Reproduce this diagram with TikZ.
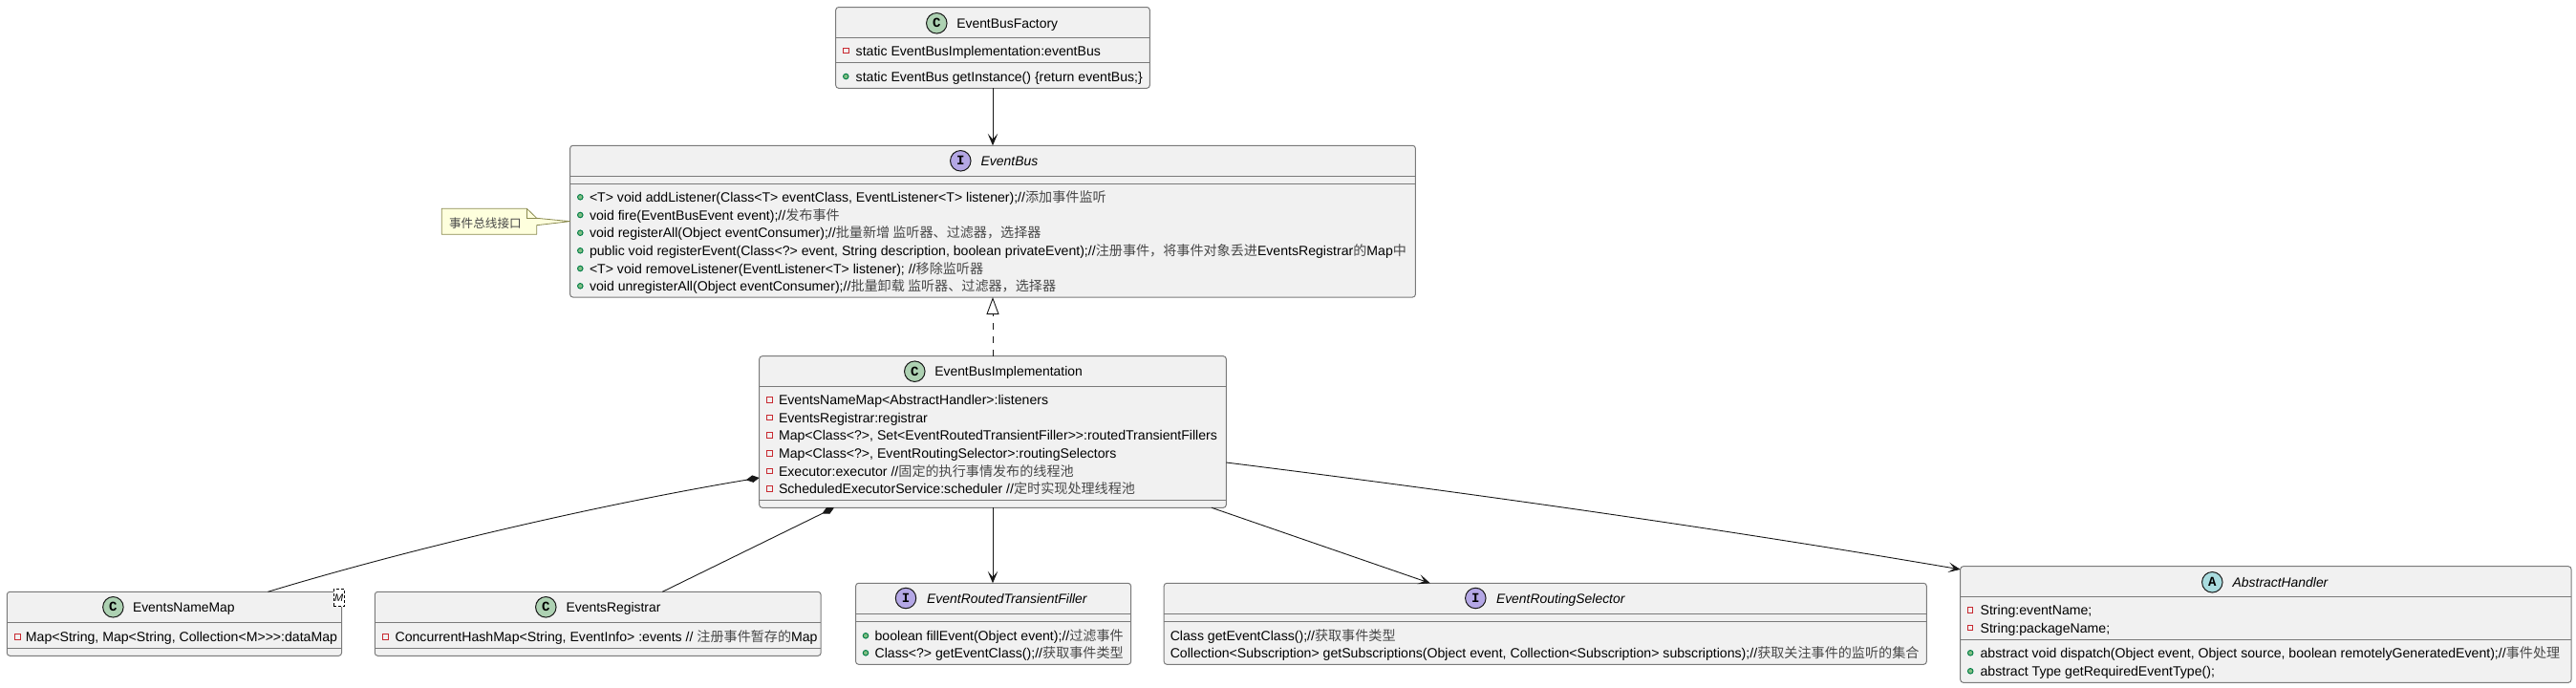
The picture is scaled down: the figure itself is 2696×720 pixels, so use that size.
\documentclass[tikz,border=0pt]{standalone}
\usepackage{fontspec}
\setmainfont{Liberation Sans}
\newfontfamily\lat{Liberation Sans}
\newfontfamily\cjk{Noto Sans CJK SC}
\newfontfamily\iconfont{Liberation Mono}
\usetikzlibrary{arrows.meta}
\definecolor{boxfill}{HTML}{F1F1F1}
\definecolor{boxline}{HTML}{7A7A7A}
\definecolor{conn}{HTML}{181818}
\definecolor{privred}{HTML}{C82930}
\definecolor{pubfill}{HTML}{84BE84}
\definecolor{publine}{HTML}{038048}
\definecolor{zhcol}{HTML}{484848}
\definecolor{notefill}{HTML}{FEFFDD}
\definecolor{noteline}{HTML}{8A8A50}
\definecolor{cfill}{HTML}{ADD1B2}
\definecolor{ifill}{HTML}{B4A7E5}
\definecolor{afill}{HTML}{A9DCDF}
\newcommand{\zh}[1]{{\cjk\color{zhcol}#1}}
\tikzset{
  x=1pt,y=-1pt,
  umlbox/.style={rectangle,rounded corners=3pt,draw=boxline,fill=boxfill,line width=1pt,inner sep=0pt,outer sep=0pt},
  divider/.style={draw=boxline,line width=1pt},
  rowtext/.style={anchor=base west,inner sep=0pt,outer sep=0pt,yshift=-5pt,font=\lat\fontsize{14.1pt}{16pt}\selectfont,text=black},
  titletext/.style={anchor=base west,inner sep=0pt,outer sep=0pt,yshift=-5pt,font=\lat\fontsize{13.9pt}{16pt}\selectfont,text=black},
  ititle/.style={titletext,font=\lat\itshape\fontsize{13.9pt}{16pt}\selectfont},
  privmark/.style={rectangle,draw=privred,line width=1pt,inner sep=0pt,minimum size=5.5pt},
  pubmark/.style={circle,draw=publine,fill=pubfill,line width=1pt,inner sep=0pt,minimum size=5.5pt},
  icon/.style={circle,draw=conn,line width=1pt,inner sep=0pt,minimum size=21.5pt,font=\iconfont\bfseries\fontsize{14pt}{14pt}\selectfont,text=black},
  cicon/.style={icon,fill=cfill},
  iicon/.style={icon,fill=ifill},
  aicon/.style={icon,fill=afill},
  assoc/.style={draw=conn,line width=0.9pt,-{Stealth[length=12.5pt,width=10.5pt,inset=6pt]}},
  compo/.style={draw=conn,line width=0.9pt,{Diamond[length=14pt,width=7.5pt]}-},
  realize/.style={draw=conn,line width=0.9pt,dash pattern=on 7pt off 7pt,-{Triangle[open,length=18pt,width=13pt,fill=white]}},
  notetext/.style={inner sep=0pt,font=\cjk\fontsize{12.6pt}{14pt}\selectfont,text=zhcol},
  gen/.style={rectangle,draw=black,fill=white,line width=0.7pt,densely dashed,inner sep=0pt,outer sep=0pt,minimum width=11pt,minimum height=18.5pt,font=\lat\itshape\fontsize{11pt}{12pt}\selectfont},
}
\newcommand{\umlbox}[5]{%
  \pgfmathsetmacro{\bw}{#4-#2}\pgfmathsetmacro{\bh}{#5-#3}%
  \pgfmathsetmacro{\bx}{(#2+#4)/2}\pgfmathsetmacro{\by}{(#3+#5)/2}%
  \node[umlbox,minimum width=\bw pt,minimum height=\bh pt] (#1) at (\bx,\by) {};}
\newcommand{\priv}[5]{\node[privmark] (#1m) at (#2,#3) {}; \node[rowtext] (#1) at (#4,#3) {#5};}
\newcommand{\pub}[5]{\node[pubmark] (#1m) at (#2,#3) {}; \node[rowtext] (#1) at (#4,#3) {#5};}
\begin{document}
\begin{tikzpicture}
\useasboundingbox (0,0) rectangle (2696,720);

% EventBusFactory
\umlbox{fac}{874.7}{7.5}{1203.3}{92.3}
\draw[divider] (fac.west |- 0,39.3) -- (fac.east |- 0,39.3);
\draw[divider] (fac.west |- 0,65.7) -- (fac.east |- 0,65.7);
\node[cicon] (facI) at (980.3,24.3) {C};
\node[titletext] (facT) at (1001.3,24.3) {EventBusFactory};
\priv{fa}{885.3}{53}{895.7}{static EventBusImplementation:eventBus}
\pub{fb}{885.3}{80}{895.7}{static EventBus getInstance() \{return eventBus;\}}

% EventBus
\umlbox{bus}{596.6}{152.3}{1481.4}{311}
\draw[divider] (bus.west |- 0,184.3) -- (bus.east |- 0,184.3);
\draw[divider] (bus.west |- 0,192.3) -- (bus.east |- 0,192.3);
\node[iicon] (busI) at (1005.3,168.3) {I};
\node[ititle] (busT) at (1026.7,168.3) {EventBus};
\pub{ba}{607.3}{206.3}{617}{<T> void addListener(Class<T> eventClass, EventListener<T> listener);//\zh{添加事件监听}}
\pub{bb}{607.3}{225}{617}{void fire(EventBusEvent event);//\zh{发布事件}}
\pub{bc}{607.3}{243.7}{617}{void registerAll(Object eventConsumer);//\zh{批量新增 监听器、过滤器，选择器}}
\pub{bd}{607.3}{262.3}{617}{public void registerEvent(Class<?> event, String description, boolean privateEvent);//\zh{注册事件，将事件对象丢进}EventsRegistrar\zh{的}Map\zh{中}}
\pub{be}{607.3}{281}{617}{<T> void removeListener(EventListener<T> listener); //\zh{移除监听器}}
\pub{bf}{607.3}{299.3}{617}{void unregisterAll(Object eventConsumer);//\zh{批量卸载 监听器、过滤器，选择器}}

% Note
\draw[draw=noteline,fill=notefill,line width=0.8pt,line join=round]
  (462.2,218.3) -- (551.4,218.3) -- (561.7,228.3) -- (bus.west) -- (561.7,235.7) -- (561.7,245.3) -- (462.2,245.3) -- cycle;
\draw[draw=noteline,line width=0.8pt] (551.4,218.3) -- (551.4,228.3) -- (561.7,228.3);
\node[notetext] (noteT) at (507.9,233.7) {事件总线接口};

% EventBusImplementation
\umlbox{impl}{794.7}{372.7}{1283.3}{531.3}
\draw[divider] (impl.west |- 0,404.3) -- (impl.east |- 0,404.3);
\draw[divider] (impl.west |- 0,523.3) -- (impl.east |- 0,523.3);
\node[cicon] (implI) at (957.3,388.7) {C};
\node[titletext] (implT) at (978.3,388.7) {EventBusImplementation};
\priv{ia}{805.3}{418.3}{815}{EventsNameMap<AbstractHandler>:listeners}
\priv{ib}{805.3}{437}{815}{EventsRegistrar:registrar}
\priv{ic}{805.3}{455.7}{815}{Map<Class<?>, Set<EventRoutedTransientFiller>>:routedTransientFillers}
\priv{id}{805.3}{474.3}{815}{Map<Class<?>, EventRoutingSelector>:routingSelectors}
\priv{ie}{805.3}{493}{815}{Executor:executor //\zh{固定的执行事情发布的线程池}}
\priv{if}{805.3}{511.7}{815}{ScheduledExecutorService:scheduler //\zh{定时实现处理线程池}}

% EventsNameMap
\umlbox{nm}{7.3}{619.3}{357.5}{686.3}
\draw[divider] (nm.west |- 0,651.7) -- (nm.east |- 0,651.7);
\draw[divider] (nm.west |- 0,678.3) -- (nm.east |- 0,678.3);
\node[cicon] (nmI) at (118.4,635.3) {C};
\node[titletext] (nmT) at (139,635.3) {EventsNameMap};
\priv{na}{18.5}{666.7}{27}{Map<String, Map<String, Collection<M>>>:dataMap}
\node[gen] (nmG) at (354.8,625.5) {M};

% EventsRegistrar
\umlbox{reg}{392.3}{619.3}{859.1}{686.3}
\draw[divider] (reg.west |- 0,651.7) -- (reg.east |- 0,651.7);
\draw[divider] (reg.west |- 0,678.3) -- (reg.east |- 0,678.3);
\node[cicon] (regI) at (571.3,635.3) {C};
\node[titletext] (regT) at (592.6,635.3) {EventsRegistrar};
\priv{ra}{403.5}{666.7}{413.6}{ConcurrentHashMap<String, EventInfo> :events // \zh{注册事件暂存的}Map}

% EventRoutedTransientFiller
\umlbox{rt}{895.6}{610.3}{1183.6}{695.3}
\draw[divider] (rt.west |- 0,642.3) -- (rt.east |- 0,642.3);
\draw[divider] (rt.west |- 0,650.3) -- (rt.east |- 0,650.3);
\node[iicon] (rtI) at (948,626) {I};
\node[ititle] (rtT) at (970.2,626) {EventRoutedTransientFiller};
\pub{ta}{906}{665.3}{915.6}{boolean fillEvent(Object event);//\zh{过滤事件}}
\pub{tb}{906}{683.3}{915.6}{Class<?> getEventClass();//\zh{获取事件类型}}

% EventRoutingSelector
\umlbox{sel}{1218.2}{610.3}{2016.3}{695.3}
\draw[divider] (sel.west |- 0,642.3) -- (sel.east |- 0,642.3);
\draw[divider] (sel.west |- 0,650.3) -- (sel.east |- 0,650.3);
\node[iicon] (selI) at (1544.3,626) {I};
\node[ititle] (selT) at (1566,626) {EventRoutingSelector};
\node[rowtext] (sa) at (1224.8,665.3) {Class getEventClass();//\zh{获取事件类型}};
\node[rowtext] (sb) at (1224.8,683.3) {Collection<Subscription> getSubscriptions(Object event, Collection<Subscription> subscriptions);//\zh{获取关注事件的监听的集合}};

% AbstractHandler
\umlbox{ah}{2051.7}{592.7}{2691}{714.3}
\draw[divider] (ah.west |- 0,624.3) -- (ah.east |- 0,624.3);
\draw[divider] (ah.west |- 0,669.3) -- (ah.east |- 0,669.3);
\node[aicon] (ahI) at (2315.3,609.3) {A};
\node[ititle] (ahT) at (2336.7,609.3) {AbstractHandler};
\priv{aa}{2062.2}{638.3}{2072.6}{String:eventName;}
\priv{ab}{2062.2}{657}{2072.6}{String:packageName;}
\pub{ac}{2062.2}{683.3}{2072.6}{abstract void dispatch(Object event, Object source, boolean remotelyGeneratedEvent);//\zh{事件处理}}
\pub{ad}{2062.2}{702.3}{2072.6}{abstract Type getRequiredEventType();}

% Connectors
\draw[assoc] (fac.south) -- (fac.south |- bus.north);
\draw[realize] (impl.north) -- (impl.north |- bus.south);
\draw[compo] ([yshift=-48pt]impl.west) .. controls (650,524) and (450,568) .. ([xshift=98pt]nm.north);
\draw[compo] ([xshift=-166pt]impl.south) -- ([xshift=67.6pt]reg.north);
\draw[assoc] (impl.south) -- (impl.south |- rt.north);
\draw[assoc] ([xshift=229pt]impl.south) -- ([xshift=-120.5pt]sel.north);
\draw[assoc] ([yshift=-32pt]impl.east) .. controls (1540,516) and (1800,553) .. ([yshift=57.6pt]ah.west);
\end{tikzpicture}
\end{document}
